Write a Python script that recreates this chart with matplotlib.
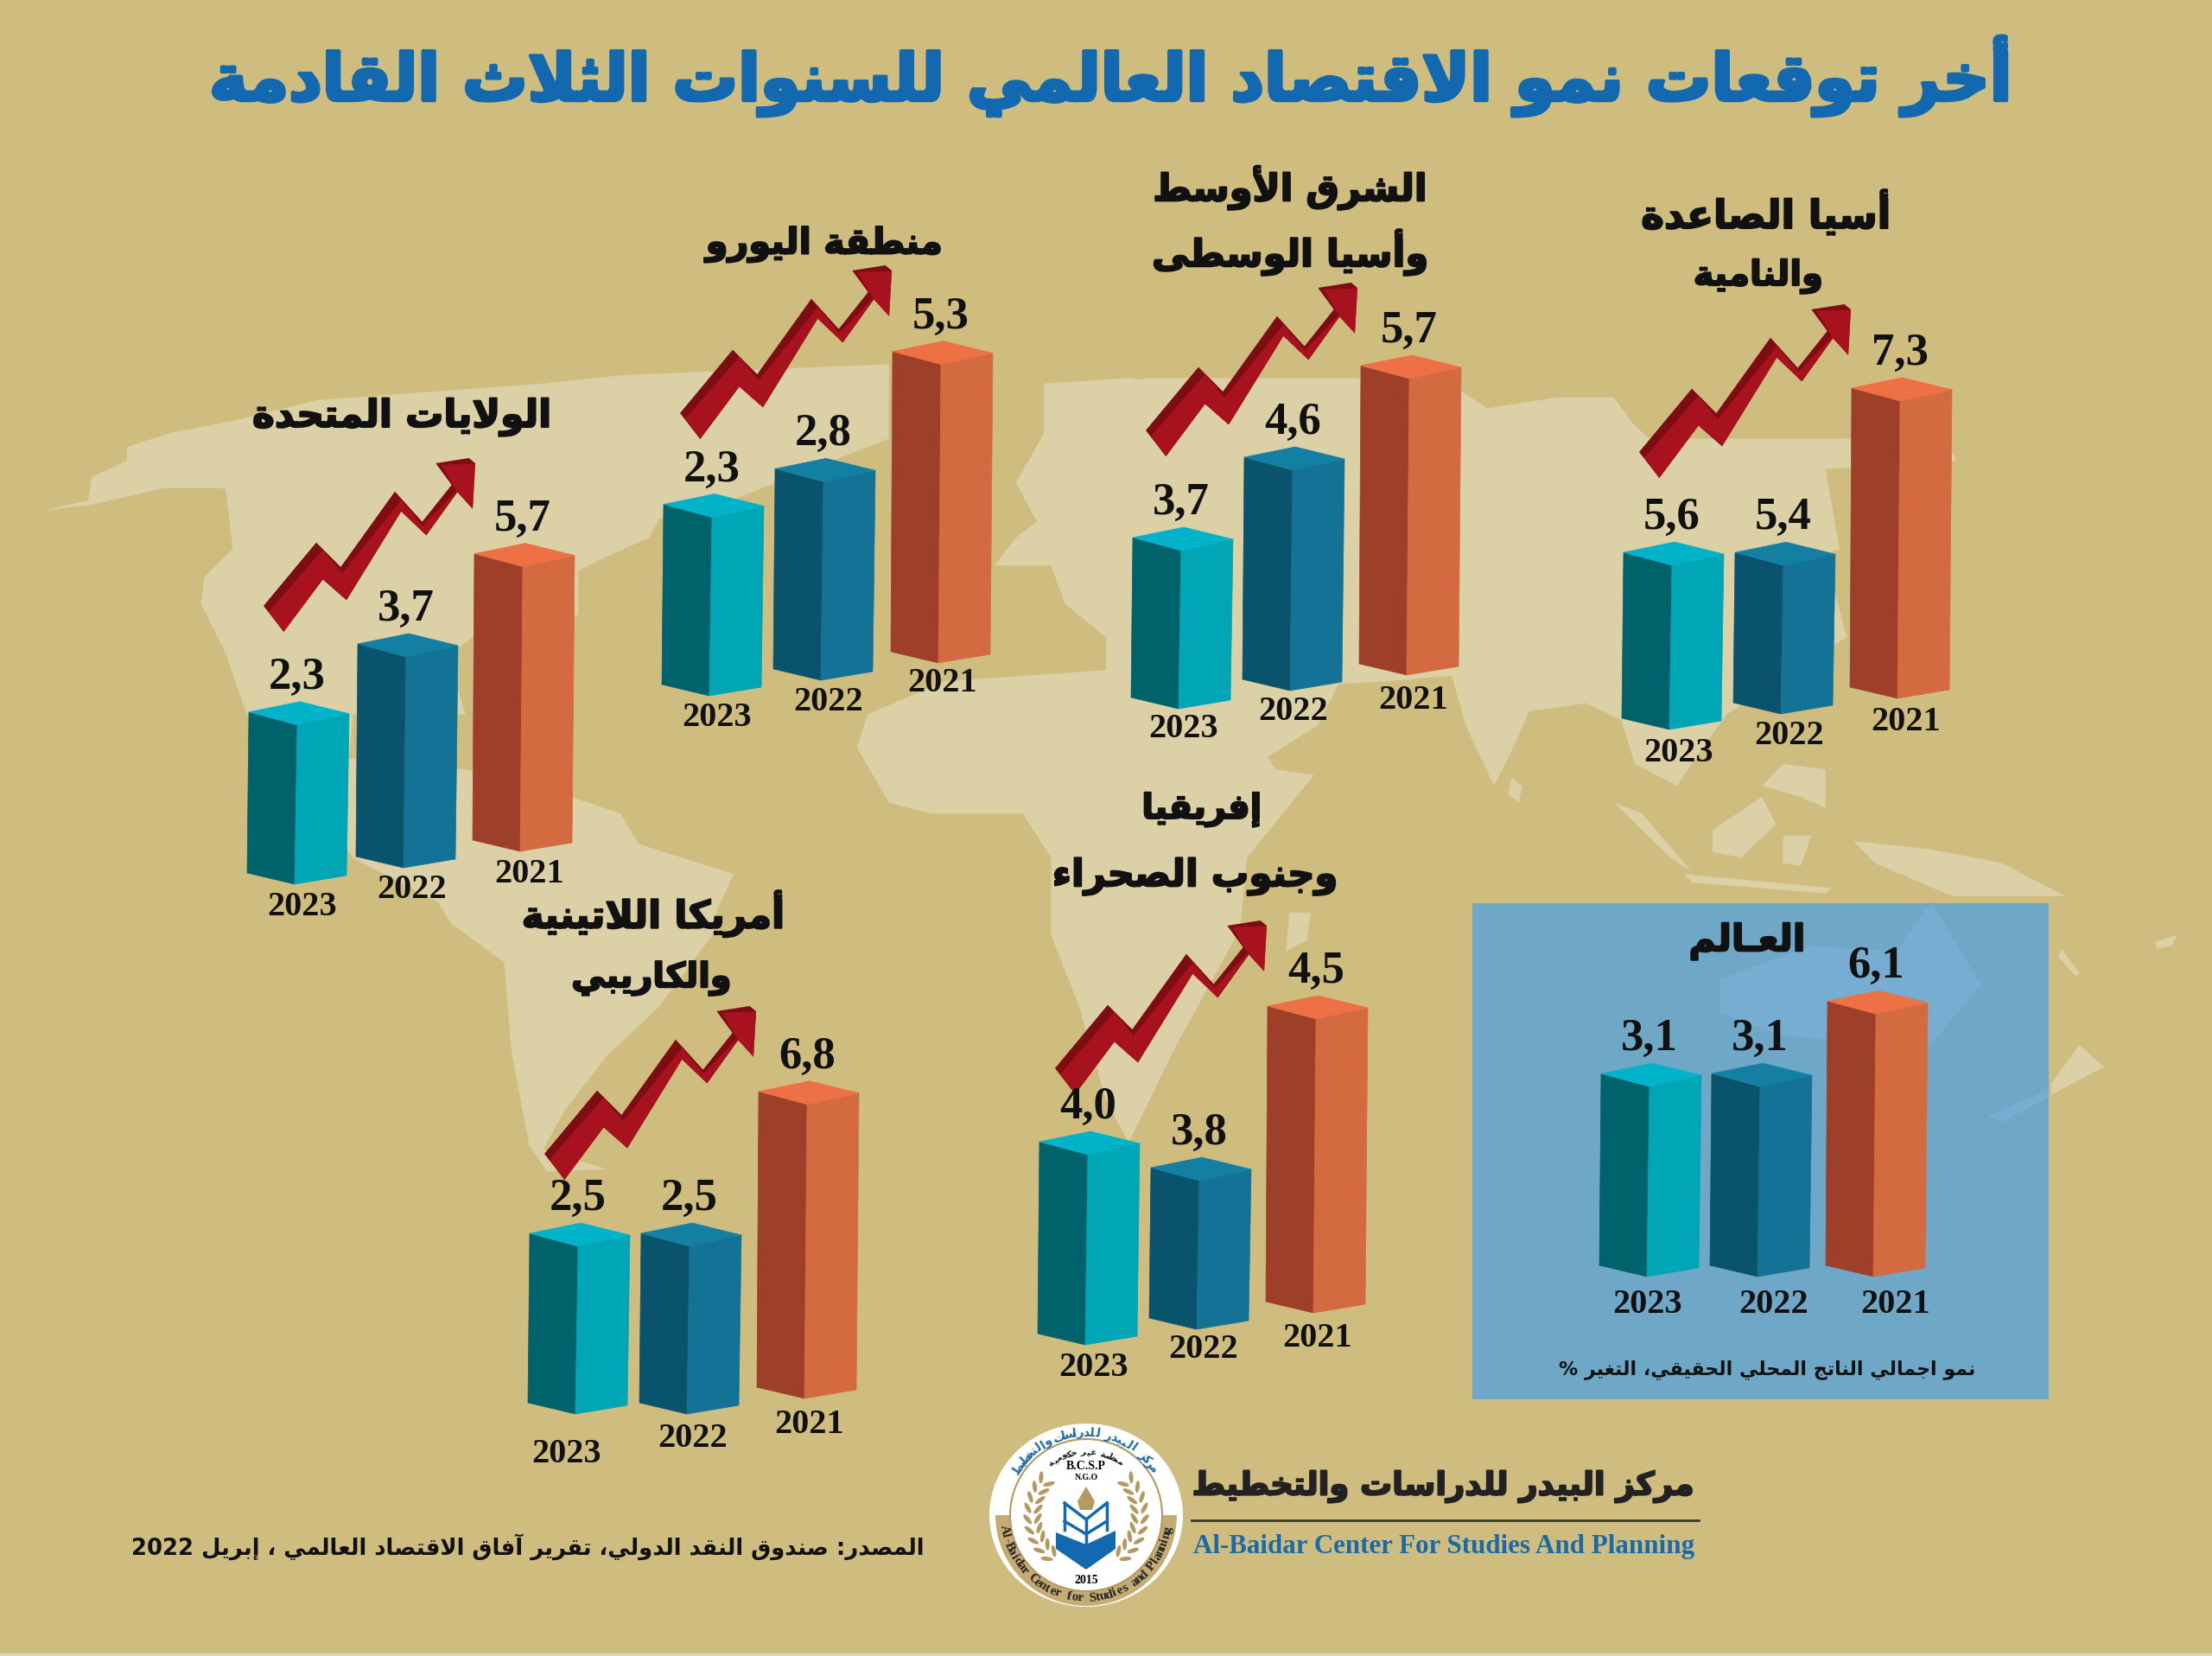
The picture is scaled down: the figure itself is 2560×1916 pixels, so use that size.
import re
import math
import unicodedata
import numpy as np
import matplotlib
matplotlib.use("Agg")
import matplotlib.pyplot as plt
import matplotlib.patheffects as pe
from matplotlib.patches import Polygon, Circle, Wedge, Ellipse, Rectangle

years = ["2023", "2022", "2021"]
us_values = [2.3, 3.7, 5.7]
euro_values = [2.3, 2.8, 5.3]
mideast_values = [3.7, 4.6, 5.7]
asia_values = [5.6, 5.4, 7.3]
latam_values = [2.5, 2.5, 6.8]
africa_values = [4.0, 3.8, 4.5]
world_values = [3.1, 3.1, 6.1]

BG = "#cfbd80"
LAND = "#dcd1a6"
FACES = [("#00626a", "#00a5b6", "#00b3c9"),
         ("#0a536c", "#137295", "#1380a3"),
         ("#9e4029", "#d46a40", "#ed7145")]
SERIF = "Liberation Serif"
ARABIC = "DejaVu Sans"

# arabic shaping, matplotlib does none of it
forms = {}
for cp in list(range(0xFE80, 0xFEFD)):
    d = unicodedata.decomposition(chr(cp)).split()
    if len(d) == 2:
        forms.setdefault(chr(int(d[1], 16)), {})[d[0]] = chr(cp)
    elif len(d) == 3:
        forms.setdefault(chr(int(d[1], 16)) + chr(int(d[2], 16)), {})[d[0]] = chr(cp)
KASHIDA = "\u0640"
LAM = "\u0644"


def joins_next(c):
    return c == KASHIDA or (c in forms and "<initial>" in forms[c])


def joins_prev(c):
    return c == KASHIDA or c in forms


def ar(text):
    chars = []
    i = 0
    while i < len(text):
        if text[i] == LAM and i + 1 < len(text) and text[i:i + 2] in forms:
            chars.append(text[i:i + 2])
            i += 2
        else:
            chars.append(text[i])
            i += 1
    out = []
    for i, c in enumerate(chars):
        if c not in forms:
            out.append(c)
            continue
        prev = chars[i - 1] if i > 0 else " "
        nxt = chars[i + 1] if i + 1 < len(chars) else " "
        back = joins_next(prev[-1]) and len(prev) == 1
        fwd = joins_next(c) and joins_prev(nxt[0])
        f = forms[c]
        if back and fwd:
            out.append(f["<medial>"])
        elif back:
            out.append(f["<final>"])
        elif fwd:
            out.append(f["<initial>"])
        else:
            out.append(f["<isolated>"])
    vis = "".join(reversed(out))
    return re.sub(r"\d+", lambda m: m.group(0)[::-1], vis)


fig = plt.figure(figsize=(25.6, 19.16), dpi=100, facecolor=BG)
ax = fig.add_axes([0, 0, 1, 1])
ax.set_xlim(0, 2560)
ax.set_ylim(1916, 0)
ax.axis("off")
renderer = fig.canvas.get_renderer()


def fit_text(x, y, s, width, color="black", family=ARABIC, weight="bold", va="center", z=10, heavy=0):
    t = ax.text(x, y, s, ha="center", va=va, color=color, family=family,
                weight=weight, fontsize=20, zorder=z)
    w = t.get_window_extent(renderer).width
    t.set_fontsize(20 * width / w)
    if heavy:
        t.set_path_effects([pe.withStroke(linewidth=heavy, foreground=color)])
    return t


# rough world map, traced off two crops of the reference
def zl(pts):
    return [(x / 1.225, 380 + y / 1.568) for x, y in pts]


def zr(pts):
    return [(1280 + x / 1.225, 380 + y / 1.568) for x, y in pts]


land = [
    # the americas
    zl([(60, 330), (125, 312), (130, 270), (180, 240), (180, 215), (240, 190), (340, 165), (450, 130), (770, 100),
        (880, 85), (1260, 65), (1260, 200), (1100, 280), (1000, 330), (935, 345), (920, 380), (850, 420), (820, 440),
        (820, 520), (680, 550), (640, 590), (650, 660), (660, 700), (500, 700), (495, 780), (660, 800), (810, 850),
        (880, 880), (905, 935), (1040, 990), (1015, 1060), (1010, 1100), (935, 1230), (860, 1320), (800, 1420),
        (770, 1490), (860, 1525), (775, 1530), (750, 1480), (725, 1310), (715, 1150), (640, 1080), (620, 1040),
        (500, 960), (350, 700), (320, 590), (285, 500), (290, 450), (330, 400), (320, 290), (230, 290), (130, 320)]),
    # europe
    zl([(1410, 430), (1440, 380), (1470, 350), (1440, 280), (1480, 190), (1480, 100), (1600, 90), (1650, 100),
        (1650, 600), (1568, 560), (1510, 500), (1490, 430)]),
    # asia
    zr([(0, 100), (60, 90), (350, 90), (500, 110), (540, 145), (640, 125), (720, 125), (745, 170), (770, 200),
        (1055, 200), (1200, 225), (1205, 240), (1090, 250), (1020, 255), (1040, 400), (1000, 420), (1030, 460),
        (1050, 560), (880, 700), (830, 790), (810, 830), (750, 790), (730, 710), (680, 680), (600, 695), (570, 780),
        (550, 830), (510, 720), (490, 630), (400, 640), (330, 645), (300, 720), (220, 785), (190, 700), (160, 660),
        (0, 630)]),
    # africa
    zl([(1340, 640), (1230, 700), (1215, 760), (1260, 860), (1320, 880), (1450, 880), (1490, 960), (1490, 1100),
        (1530, 1230), (1568, 1400), (1600, 1477)]) +
    zr([(100, 1300), (190, 1090), (200, 960), (295, 810), (240, 800), (200, 720), (190, 650), (0, 620)]),
    # islands
    zr([(260, 1060), (290, 1060), (285, 1110), (255, 1130)]),
    zr([(720, 860), (760, 880), (830, 985), (800, 960)]),
    zr([(860, 910), (930, 850), (950, 900), (900, 960), (860, 950)]),
    zr([(820, 990), (1030, 1015), (1020, 1025), (830, 1005)]),
    zr([(960, 920), (1000, 920), (985, 975), (960, 970)]),
    zr([(930, 830), (960, 790), (1020, 800), (1020, 870), (985, 850)]),
    zr([(1060, 930), (1170, 945), (1270, 970), (1360, 1030), (1200, 1030), (1090, 970)]),
    zr([(575, 815), (590, 830), (585, 860), (570, 845)]),
    zr([(1380, 1300), (1415, 1340), (1340, 1390), (1340, 1370)]),
    zr([(1355, 1125), (1380, 1170), (1375, 1175), (1350, 1140)]),
    zr([(1488, 1112), (1520, 1100), (1510, 1120), (1490, 1125)]),
]
for poly in land:
    ax.add_patch(Polygon(poly, closed=True, fc=LAND, ec="none", zorder=1))

# world box with ghost australia
ax.add_patch(Rectangle((1704, 1045), 667, 574, fc="#6fa8c7", ec="none", zorder=2))
aus = zr([(870, 1180), (1000, 1120), (1120, 1130), (1170, 1040), (1240, 1190), (1170, 1300), (1090, 1300), (950, 1280),
          (870, 1240)])
ax.add_patch(Polygon(aus, closed=True, fc="#76add0", ec="none", zorder=2.1))
ax.add_patch(Polygon(zr([(1250, 1430), (1336, 1380), (1336, 1395), (1270, 1440)]), closed=True, fc="#76add0", ec="none", zorder=2.1))
ax.add_patch(Rectangle((0, 1913), 2560, 3, fc="#ded6b4", ec="none", zorder=2))

# bar panels: front bottom corner of each bar, then the value scale of that panel
panels = [
    dict(values=us_values, base=[(341, 1023), (467, 1004), (602, 985)], k=42.7, a=86, yr=[(9, 36), (10, 35), (11, 36)]),
    dict(values=euro_values, base=[(821, 805), (950, 787), (1086, 767)], k=46.3, a=100, yr=[(9, 35), (9, 35), (5, 33)]),
    dict(values=mideast_values, base=[(1364, 820), (1493, 799), (1628, 781)], k=80, a=-113, yr=[(6, 33), (4, 34), (8, 39)]),
    dict(values=asia_values, base=[(1932, 844), (2061, 826), (2196, 808)], k=90.7, a=-318, yr=[(11, 37), (10, 35), (10, 37)]),
    dict(values=latam_values, base=[(666, 1636), (795, 1636), (931, 1618)], k=34, a=109, yr=[(-10, 56), (7, 38), (6, 40)]),
    dict(values=africa_values, base=[(1256, 1556), (1385, 1538), (1520, 1519)], k=240, a=-740, yr=[(10, 36), (8, 33), (5, 39)]),
    dict(values=world_values, base=[(1906, 1477), (2034, 1477), (2168, 1477)], k=28, a=133, yr=[(1, 42), (19, 42), (26, 42)]),
]


def bar3d(x, y, h, colors):
    left, right, top = colors
    tx, ty = x + 3, y - h
    ax.add_patch(Polygon([(x - 55, y - 13), (x, y), (tx, ty), (tx - 56, ty - 15)], fc=left, ec=left, lw=0.5, zorder=4))
    ax.add_patch(Polygon([(x, y), (x + 60, y - 10), (tx + 60, ty - 13), (tx, ty)], fc=right, ec=right, lw=0.5, zorder=4))
    ax.add_patch(Polygon([(tx - 56, ty - 15), (tx + 3, ty - 27), (tx + 60, ty - 13), (tx, ty)], fc=top, ec=top, lw=0.5, zorder=4))
    return tx, ty - 27


for p in panels:
    for i in range(3):
        v = p["values"][i]
        x, y = p["base"][i]
        h = p["k"] * v + p["a"]
        tx, ty = bar3d(x, y, h, FACES[i])
        ax.text(tx, ty - 15, f"{v:.1f}".replace(".", ","), ha="center", va="baseline", family=SERIF,
                weight="bold", fontsize=38, color="#111111", zorder=6)
        ax.text(x + p["yr"][i][0], y + p["yr"][i][1], years[i], ha="center", va="baseline", family=SERIF,
                weight="bold", fontsize=29, color="#111111", zorder=6)

arrow_outer = np.array([(52, 550), (235, 330), (320, 415), (508, 153), (603, 258), (705, 130), (650, 55), (765, 37),
                        (787, 55), (778, 213), (725, 155), (617, 305), (530, 222), (340, 530), (258, 458), (122, 640)],
                       dtype=float)
arrow_face = np.array([(70, 570), (258, 355), (325, 437), (530, 183), (605, 272), (722, 150), (668, 60), (787, 57),
                       (778, 213), (725, 155), (617, 305), (530, 222), (340, 530), (258, 458), (122, 640)],
                      dtype=float)
arrow_at = [(305, 530), (1897, 352), (1326, 327), (787, 307), (630, 1164), (1221, 1065)]
for ox, oy in arrow_at:
    org = np.array([52, 37])
    ax.add_patch(Polygon((arrow_outer - org) / 3 + (ox, oy), fc="#7d0d12", ec="none", zorder=5))
    ax.add_patch(Polygon((arrow_face - org) / 3 + (ox, oy), fc="#a8121e", ec="none", zorder=5.1))

# headings
fit_text(1284, 88, ar("أخر توقعات نمو الاقتصاد العالمي للسنوات الثلاث القادمة"), 2085, color="#1269b0", heavy=3)
labels = [
    (2044, 247, "أسيا الصاعدة", 289), (2035, 320, "والنامية", 150),
    (1493, 217, "الشرق الأوسط", 317), (1493, 292, "وأسيا الوسطى", 320),
    (954, 283, "منطقة اليورو", 274), (465, 483, "الولايات المتحدة", 346),
    (756, 1057, "أمريكا اللاتينية", 304), (754, 1132, "والكاريبي", 185),
    (1391, 937, "إفريقيا", 139), (1383, 1014, "وجنوب الصحراء", 330),
    (2022, 1089, "العـالم", 135),
]
for x, y, s, w in labels:
    fit_text(x, y, ar(s), w, color="#111111", heavy=1.5)
fit_text(2045, 1585, ar("نمو اجمالي الناتج المحلي الحقيقي، التغير %"), 482, color="#111111")

# source and center name
fit_text(611, 1790, ar("المصدر: صندوق النقد الدولي، تقرير آفاق الاقتصاد العالمي ، إبريل 2022"), 917, color="#111111")
fit_text(1670, 1720, ar("مركز البيدر للدراسات والتخطيط"), 581, color="#222222", heavy=1.5)
ax.plot([1379, 1966], [1759, 1759], color="#3a3a2a", lw=2, zorder=10)
fit_text(1671, 1790, "Al-Baidar Center For Studies And Planning", 581, color="#1b6aa8", family=SERIF)

# logo
cx, cy = 1257, 1753
ax.add_patch(Ellipse((cx, cy), 224, 212, fc="white", ec="none", zorder=7))
ax.add_patch(Wedge((cx, cy), 105, 0, 180, width=20, fc="#c4ac74", ec="none", zorder=7.1))
ax.add_patch(Circle((cx, cy), 88, fc="white", ec="#b49a60", lw=1.5, zorder=7.2))


def arc_text(s, r, start, end, rot0, color, size, family):
    for i, c in enumerate(s):
        phi = start + (end - start) * (i + 0.5) / len(s)
        px = cx + r * math.cos(math.radians(phi))
        py = cy + r * math.sin(math.radians(phi))
        ax.text(px, py, c, rotation=rot0 - phi, rotation_mode="anchor", ha="center", va="center",
                family=family, weight="bold", fontsize=size, color=color, zorder=8)


arc_text("Al-Baidar Center for Studies and Planning", 96, 172, 8, 90, "#222222", 11, SERIF)
arc_text(ar("مركز البيدر للدراسات والتخطيط"), 95, 213, 327, 270, "#1b6aa8", 10, ARABIC)
arc_text(ar("منظمة غير حكومية"), 73, 234, 305, 270, "#222222", 7.5, ARABIC)
ax.text(cx, cy - 56, "B.C.S.P", ha="center", va="center", family=SERIF, weight="bold", fontsize=10, zorder=8)
ax.text(cx, cy - 43, "N.G.O", ha="center", va="center", family=SERIF, weight="bold", fontsize=7, zorder=8)
ax.text(cx, cy + 76, "2015", ha="center", va="center", family=SERIF, weight="bold", fontsize=10, zorder=8)
for side in (-1, 1):
    for phi in np.arange(-40, 50, 11):
        a = math.radians(phi)
        for off in (-6, 6):
            ex = cx + side * (62 + off) * math.cos(a)
            ey = cy + (62 + off) * math.sin(a)
            ax.add_patch(Ellipse((ex, ey), 14, 5, angle=side * (phi + 90) + side * off * 6,
                                 fc="#b49a60", ec="none", zorder=7.5))
ax.add_patch(Polygon([(cx, cy - 33), (cx + 10, cy - 16), (cx + 7, cy - 6), (cx - 7, cy - 6), (cx - 10, cy - 16)],
                     fc="#b49a60", ec="none", zorder=8))
ax.add_patch(Polygon([(cx - 35, cy + 20), (cx, cy + 34), (cx + 34, cy + 18), (cx + 34, cy + 39), (cx, cy + 63), (cx - 35, cy + 39)],
                     fc="#1269b0", ec="none", zorder=8))
ax.plot([cx - 25, cx, cx + 24], [cy - 14, cy + 5, cy - 14], color="#1269b0", lw=2.5, zorder=8)
ax.plot([cx - 25, cx, cx + 24], [cy + 7, cy + 22, cy + 7], color="#1269b0", lw=2.5, zorder=8)
ax.plot([cx - 25, cx - 25], [cy - 14, cy + 17], color="#1269b0", lw=2.5, zorder=8)
ax.plot([cx + 24, cx + 24], [cy - 14, cy + 17], color="#1269b0", lw=2.5, zorder=8)
ax.plot([cx, cx], [cy + 5, cy + 34], color="#1269b0", lw=2.5, zorder=8)

fig.savefig("out.png", dpi=100, facecolor=BG)
